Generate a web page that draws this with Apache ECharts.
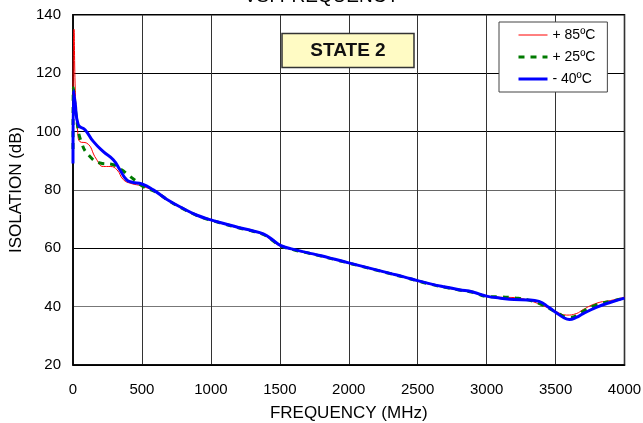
<!DOCTYPE html>
<html>
<head>
<meta charset="utf-8">
<script src="https://cdn.jsdelivr.net/npm/echarts@6/dist/echarts.min.js"></script>
<style>html,body{margin:0;padding:0;background:#fff;}#c{width:643px;height:423px;}</style>
</head>
<body>
<div id="c"></div>
<script>
var xTicks = [0, 500, 1000, 1500, 2000, 2500, 3000, 3500, 4000];
var yTicks = [20, 40, 60, 80, 100, 120, 140];
var seriesNames = ['+ 85\u00baC', '+ 25\u00baC', '- 40\u00baC'];

var freq85 = [0, 7, 18, 35, 50, 100, 170, 220, 270, 320, 365, 420, 500, 600, 700, 800, 900, 1000, 1100, 1200, 1300, 1380, 1450, 1500, 1600, 1700, 1800, 1900, 2000, 2100, 2200, 2300, 2400, 2500, 2600, 2700, 2800, 2900, 3000, 3100, 3200, 3300, 3400, 3500, 3580, 3650, 3700, 3800, 3900, 4000];
var iso85 = [112, 135, 112, 99.5, 96.5, 96, 90.5, 88, 88, 86.8, 83.5, 82.2, 81.3, 79.2, 76.0, 73.4, 71.1, 69.5, 68.2, 66.9, 65.8, 64.6, 62.4, 60.8, 59.4, 58.3, 57.2, 56.0, 54.8, 53.6, 52.4, 51.2, 50.0, 48.7, 47.5, 46.5, 45.6, 44.8, 43.4, 43.2, 43.1, 42.2, 40.5, 38.4, 37.1, 37.6, 39.0, 41.2, 42.1, 43.2];

var freq25 = [0, 3, 27, 63, 123, 196, 292, 350, 401, 450, 510, 600, 700, 800, 900, 1000, 1100, 1200, 1300, 1380, 1450, 1500, 1600, 1700, 1800, 1900, 2000, 2100, 2200, 2300, 2400, 2500, 2600, 2700, 2800, 2900, 3000, 3100, 3200, 3300, 3400, 3500, 3600, 3650, 3700, 3800, 3900, 4000];
var iso25 = [94, 115, 104, 96, 91.4, 89.2, 88.6, 87, 85.1, 83.3, 81.1, 79.3, 76.1, 73.5, 71.2, 69.6, 68.3, 67.0, 65.9, 64.7, 62.6, 60.9, 59.5, 58.4, 57.3, 56.1, 54.9, 53.7, 52.5, 51.3, 50.1, 48.8, 47.6, 46.6, 45.7, 44.9, 43.5, 43.3, 43.0, 42.3, 40.7, 38.2, 36.3, 36.8, 38.4, 40.7, 41.8, 43.0];

var freqM40 = [0, 3, 15, 38, 87, 147, 220, 292, 340, 389, 430, 500, 582, 679, 800, 900, 1000, 1100, 1200, 1300, 1380, 1450, 1500, 1600, 1700, 1800, 1900, 2000, 2100, 2200, 2300, 2400, 2500, 2600, 2700, 2800, 2900, 3000, 3100, 3200, 3300, 3380, 3450, 3500, 3560, 3600, 3650, 3700, 3800, 3900, 4000];
var isoM40 = [89, 114, 110, 102.3, 100.6, 96.6, 93.1, 90.3, 86.9, 83.4, 82.6, 82.0, 80.0, 76.8, 73.6, 71.3, 69.7, 68.4, 67.1, 66.0, 64.9, 62.8, 61.1, 59.6, 58.5, 57.4, 56.2, 55.0, 53.8, 52.6, 51.4, 50.2, 48.9, 47.7, 46.7, 45.8, 45.0, 43.6, 42.9, 42.4, 42.3, 41.8, 39.8, 38.1, 36.2, 35.6, 36.3, 37.6, 39.8, 41.5, 42.9];

function pairs(f, v) { return f.map(function (x, i) { return [x, v[i]]; }); }

var FONT = 'Liberation Sans, Arial, sans-serif';
var chart = echarts.init(document.getElementById('c'), null, { renderer: 'canvas' });
chart.setOption({
  animation: false,
  backgroundColor: '#fff',
  grid: { left: 73, right: 18.5, top: 14.7, bottom: 58, show: true, borderColor: '#000', borderWidth: 1.5, backgroundColor: 'transparent', containLabel: false, outerBoundsMode: 'none' },
  xAxis: {
    type: 'value', min: xTicks[0], max: xTicks[xTicks.length - 1], interval: 500,
    name: 'FREQUENCY (MHz)', nameLocation: 'middle', nameGap: 40,
    nameTextStyle: { fontFamily: FONT, fontSize: 17, color: '#000' },
    axisLine: { show: true, lineStyle: { color: '#000', width: 1.5 } },
    axisTick: { show: false },
    axisLabel: { fontFamily: FONT, fontSize: 15, color: '#000', margin: 17, formatter: function (v) { return String(v); } },
    splitLine: { show: true, lineStyle: { color: '#333', width: 1 } }
  },
  yAxis: {
    type: 'value', min: yTicks[0], max: yTicks[yTicks.length - 1], interval: 20,
    name: 'ISOLATION (dB)', nameLocation: 'middle', nameGap: 48,
    nameTextStyle: { fontFamily: FONT, fontSize: 17, color: '#000' },
    axisLine: { show: true, lineStyle: { color: '#000', width: 1.5 } },
    axisTick: { show: false },
    axisLabel: { fontFamily: FONT, fontSize: 15, color: '#000', margin: 12, formatter: function (v) { return String(v); } },
    splitLine: { show: true, lineStyle: { color: ['#000', '#777', '#000', '#666', '#000', '#000', '#000'], width: 1 } }
  },
  legend: {
    orient: 'vertical', left: 499, top: 22,
    padding: [6, 12, 6, 18], itemWidth: 29, itemHeight: 14, itemGap: 8,
    backgroundColor: '#fff', borderColor: '#444', borderWidth: 1,
    itemStyle: { opacity: 0 },
    lineStyle: { width: 'inherit', type: 'inherit' },
    textStyle: { fontFamily: FONT, fontSize: 14, color: '#000', width: 46, align: 'right' },
    data: seriesNames
  },
  graphic: [
    { type: 'text', left: 'center', top: -13, style: { text: 'VS. FREQUENCY', font: '19px ' + FONT, fill: '#000' } },
    { type: 'rect', shape: { x: 282, y: 33.5, width: 132, height: 34 }, style: { fill: '#FFFBC4', stroke: '#333', lineWidth: 1.5 }, z: 10 },
    { type: 'text', x: 348, y: 51, style: { text: 'STATE 2', font: 'bold 19px ' + FONT, fill: '#111', align: 'center', verticalAlign: 'middle' }, z: 11 }
  ],
  series: [
    { name: seriesNames[0], type: 'line', data: pairs(freq85, iso85), smooth: 0.5, symbol: 'none', lineStyle: { color: '#ff0000', width: 1 }, itemStyle: { color: '#ff0000' }, z: 3 },
    { name: seriesNames[1], type: 'line', data: pairs(freq25, iso25), smooth: 0.5, symbol: 'none', lineStyle: { color: '#007a00', width: 3, type: [6, 6] }, itemStyle: { color: '#007a00' }, z: 4 },
    { name: seriesNames[2], type: 'line', data: pairs(freqM40, isoM40), smooth: 0.5, symbol: 'none', lineStyle: { color: '#0000ff', width: 3 }, itemStyle: { color: '#0000ff' }, z: 5 }
  ]
});
</script>
</body>
</html>
